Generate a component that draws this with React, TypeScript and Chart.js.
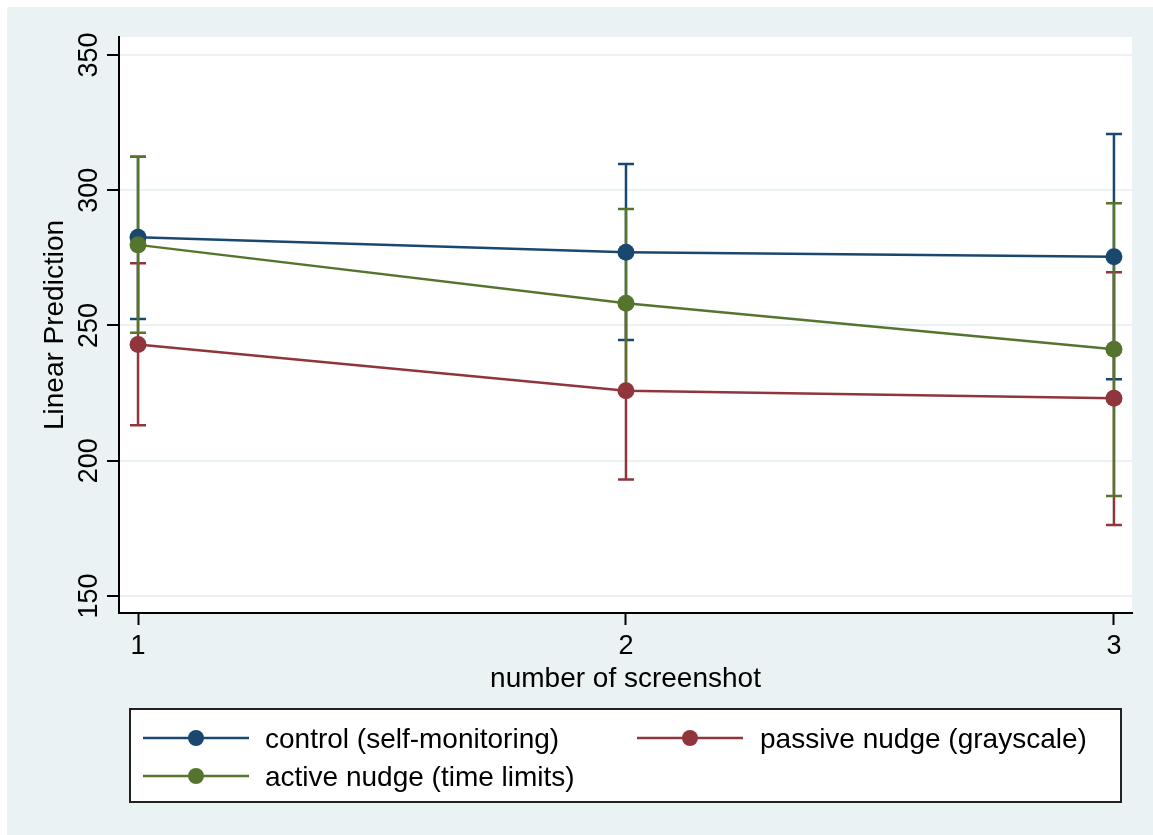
import React, { useEffect, useRef } from "react";
import { Chart, registerables } from "chart.js";

Chart.register(...registerables);

const categories = [1, 2, 3];
const yTickValues = [150, 200, 250, 300, 350];

const seriesNames = ["control (self-monitoring)", "passive nudge (grayscale)", "active nudge (time limits)"];
const seriesColors = ["#1a476f", "#90353b", "#55752f"];

const controlMean = [282.6, 277.1, 275.4];
const controlLower = [252.4, 244.6, 230.1];
const controlUpper = [312.4, 309.7, 320.8];

const passiveMean = [243.0, 225.9, 223.1];
const passiveLower = [213.1, 193.1, 176.2];
const passiveUpper = [273.0, 258.7, 269.7];

const activeMean = [279.8, 258.2, 241.2];
const activeLower = [247.3, 225.6, 187.0];
const activeUpper = [312.4, 293.1, 295.2];

const xTitle = "number of screenshot";
const yTitle = "Linear Prediction";

const means = [controlMean, passiveMean, activeMean];
const lowers = [controlLower, passiveLower, activeLower];
const uppers = [controlUpper, passiveUpper, activeUpper];

const FONT = '"Liberation Sans", Arial, Helvetica, sans-serif';

const W = 1146;
const H = 828;

export default function App() {
  const ref = useRef<HTMLCanvasElement | null>(null);

  useEffect(() => {
    const canvas = ref.current;
    if (!canvas) return;

    const plotBg = {
      id: "plotBg",
      beforeDraw(chart: any) {
        const { ctx, chartArea } = chart;
        ctx.save();
        ctx.fillStyle = "#ffffff";
        ctx.fillRect(chartArea.left, chartArea.top, chartArea.right - chartArea.left, chartArea.bottom - chartArea.top);
        ctx.restore();
      },
    };

    const errorBars = {
      id: "errorBars",
      beforeDatasetsDraw(chart: any) {
        const { ctx } = chart;
        const xs = chart.scales.x;
        const ys = chart.scales.y;
        ctx.save();
        for (let s = 0; s < means.length; s++) {
          ctx.strokeStyle = seriesColors[s];
          ctx.lineWidth = 2.5;
          for (let i = 0; i < categories.length; i++) {
            const px = xs.getPixelForValue(categories[i]);
            const lo = ys.getPixelForValue(lowers[s][i]);
            const hi = ys.getPixelForValue(uppers[s][i]);
            ctx.beginPath();
            ctx.moveTo(px, lo);
            ctx.lineTo(px, hi);
            ctx.moveTo(px - 8, lo);
            ctx.lineTo(px + 8, lo);
            ctx.moveTo(px - 8, hi);
            ctx.lineTo(px + 8, hi);
            ctx.stroke();
          }
        }
        ctx.restore();
      },
    };

    const texts = {
      id: "texts",
      afterDraw(chart: any) {
        const { ctx, chartArea } = chart;
        const xs = chart.scales.x;
        const ys = chart.scales.y;
        ctx.save();
        ctx.fillStyle = "#000000";
        ctx.font = `27px ${FONT}`;
        ctx.textAlign = "center";
        ctx.textBaseline = "alphabetic";
        for (const v of yTickValues) {
          const py = ys.getPixelForValue(v);
          ctx.save();
          ctx.translate(90, py);
          ctx.rotate(-Math.PI / 2);
          ctx.fillText(String(v), 0, 0);
          ctx.restore();
        }
        for (const v of categories) {
          const px = xs.getPixelForValue(v);
          ctx.fillText(String(v), px, 647);
        }
        ctx.font = `28px ${FONT}`;
        ctx.fillText(xTitle, (chartArea.left + chartArea.right) / 2, 680);
        ctx.save();
        ctx.translate(56, (chartArea.top + chartArea.bottom) / 2);
        ctx.rotate(-Math.PI / 2);
        ctx.fillText(yTitle, 0, 0);
        ctx.restore();

        // legend
        const bx = 123, by = 702, bw = 991, bh = 93;
        ctx.fillStyle = "#ffffff";
        ctx.fillRect(bx, by, bw, bh);
        ctx.strokeStyle = "#222222";
        ctx.lineWidth = 2;
        ctx.strokeRect(bx, by, bw, bh);
        const pos = [
          { x0: 136, x1: 242, tx: 258, cy: 731 },
          { x0: 630, x1: 736, tx: 753, cy: 731 },
          { x0: 136, x1: 242, tx: 258, cy: 769 },
        ];
        ctx.textAlign = "left";
        ctx.font = `28px ${FONT}`;
        for (let s = 0; s < seriesNames.length; s++) {
          const p = pos[s];
          ctx.strokeStyle = seriesColors[s];
          ctx.lineWidth = 2.5;
          ctx.beginPath();
          ctx.moveTo(p.x0, p.cy);
          ctx.lineTo(p.x1, p.cy);
          ctx.stroke();
          ctx.fillStyle = seriesColors[s];
          ctx.beginPath();
          ctx.arc((p.x0 + p.x1) / 2, p.cy, 8, 0, Math.PI * 2);
          ctx.fill();
          ctx.fillStyle = "#000000";
          ctx.fillText(seriesNames[s], p.tx, p.cy + 10);
        }
        ctx.restore();
      },
    };

    const datasets = means.map((m, s) => ({
      label: seriesNames[s],
      data: categories.map((c, i) => ({ x: c, y: m[i] })),
      borderColor: seriesColors[s],
      backgroundColor: seriesColors[s],
      borderWidth: 2.5,
      pointRadius: 8.5,
      pointBorderWidth: 0,
      pointHoverRadius: 8.5,
      pointBackgroundColor: seriesColors[s],
      tension: 0,
      order: means.length - s,
    }));

    const chart = new Chart(canvas, {
      type: "line",
      data: { datasets },
      options: {
        animation: false,
        responsive: false,
        devicePixelRatio: 1,
        layout: { padding: { top: 30, right: 21, left: 0, bottom: 0 } },
        plugins: {
          legend: { display: false },
          tooltip: { enabled: false },
        },
        scales: {
          x: {
            type: "linear",
            min: 0.961,
            max: 3.037,
            afterBuildTicks: (scale: any) => {
              scale.ticks = categories.map((v) => ({ value: v }));
            },
            afterFit: (scale: any) => {
              scale.height = 222;
            },
            ticks: { display: false },
            grid: {
              drawOnChartArea: false,
              drawTicks: true,
              tickLength: 12,
              tickColor: "#000000",
              tickWidth: 2,
            },
            border: { display: true, color: "#000000", width: 2 },
          },
          y: {
            type: "linear",
            min: 143.7,
            max: 356.65,
            afterBuildTicks: (scale: any) => {
              scale.ticks = yTickValues.map((v) => ({ value: v }));
            },
            afterFit: (scale: any) => {
              scale.width = 112;
            },
            ticks: { display: false },
            grid: {
              color: "#eaf2f3",
              lineWidth: 2,
              drawTicks: true,
              tickLength: 12,
              tickColor: "#000000",
              tickWidth: 2,
            },
            border: { display: true, color: "#000000", width: 2 },
          },
        },
      },
      plugins: [plotBg, errorBars, texts],
    });

    return () => chart.destroy();
  }, []);

  return (
    <div
      style={{
        position: "absolute",
        left: 7,
        top: 7,
        width: W,
        height: H,
        background: "#eaf2f3",
      }}
    >
      <canvas ref={ref} width={W} height={H} style={{ display: "block", width: W, height: H }} />
    </div>
  );
}
